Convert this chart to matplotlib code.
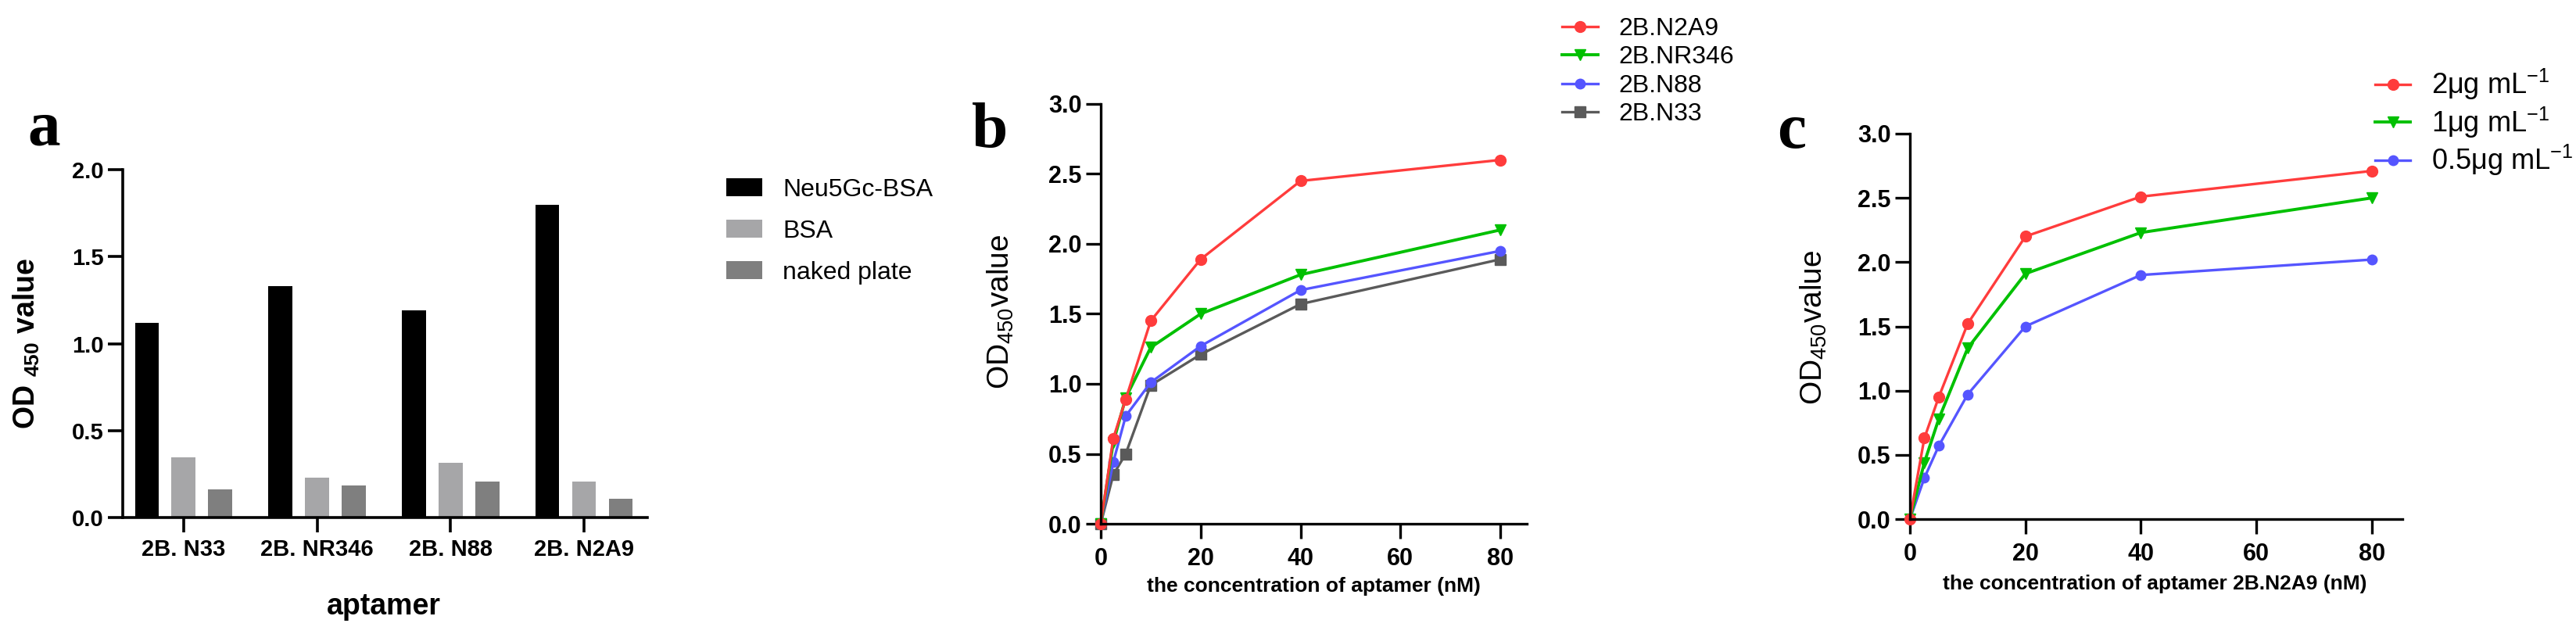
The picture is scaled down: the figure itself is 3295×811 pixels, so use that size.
import numpy as np
import matplotlib
matplotlib.use('Agg')
import matplotlib.pyplot as plt
from matplotlib import font_manager

# ---- data ----
aptamers = ['2B. N33', '2B. NR346', '2B. N88', '2B. N2A9']
neu5gc_bsa = [1.12, 1.33, 1.19, 1.80]
bsa = [0.345, 0.23, 0.315, 0.205]
naked_plate = [0.163, 0.185, 0.205, 0.11]

conc = [0, 2.5, 5, 10, 20, 40, 80]
n2a9 = [0, 0.61, 0.89, 1.45, 1.89, 2.45, 2.60]
nr346 = [0, 0.58, 0.90, 1.26, 1.50, 1.78, 2.10]
n88 = [0, 0.44, 0.77, 1.01, 1.27, 1.67, 1.95]
n33 = [0, 0.35, 0.50, 0.99, 1.21, 1.57, 1.89]

c_2ug = [0, 0.63, 0.95, 1.52, 2.20, 2.51, 2.71]
c_1ug = [0, 0.44, 0.78, 1.33, 1.91, 2.23, 2.50]
c_05ug = [0, 0.32, 0.57, 0.97, 1.50, 1.90, 2.02]

xticks_conc = [0, 20, 40, 60, 80]
yticks_a = [0, 0.5, 1.0, 1.5, 2.0]
yticks_bc = [0, 0.5, 1.0, 1.5, 2.0, 2.5, 3.0]

RED, GREEN, BLUE, GRAY = '#ff3c3c', '#00c000', '#5555ff', '#5a5a5a'

names = {f.name for f in font_manager.fontManager.ttflist}
NARROW = 'Liberation Sans Narrow' if 'Liberation Sans Narrow' in names else 'Liberation Sans'
SANS = 'Liberation Sans'
SERIF = 'Liberation Serif'

plt.rcParams['font.family'] = [SANS, 'DejaVu Sans']
plt.rcParams['mathtext.fontset'] = 'custom'
plt.rcParams['mathtext.rm'] = SANS
plt.rcParams['mathtext.it'] = SANS + ':italic'
plt.rcParams['mathtext.bf'] = SANS + ':bold'

W, H = 3295, 811
fig = plt.figure(figsize=(W / 100, H / 100), dpi=100)


def px_axes(left, top, right, bottom):
    return fig.add_axes([left / W, 1 - bottom / H, (right - left) / W, (bottom - top) / H])


def style_axes(ax, lw=2.4):
    for s in ['top', 'right']:
        ax.spines[s].set_visible(False)
    for s in ['left', 'bottom']:
        ax.spines[s].set_linewidth(lw)
        ax.spines[s].set_capstyle('projecting')
    ax.tick_params(direction='out', length=13.5, width=lw, pad=4)


# ---------------- panel a ----------------
ax = px_axes(157, 217, 828, 662)
x = np.arange(len(aptamers))
w, off = 0.18, 0.275
ax.bar(x - off, neu5gc_bsa, w, color='black', label='Neu5Gc-BSA')
ax.bar(x, bsa, w, color='#a6a6a8', label='BSA')
ax.bar(x + off, naked_plate, w, color='#7f7f7f', label='naked plate')
ax.set_xlim(-0.456, 3.474)
ax.set_ylim(0, 2)
style_axes(ax, 2.6)
ax.set_xticks(x)
ax.set_xticklabels(aptamers, fontsize=21, fontweight='bold', family=NARROW)
ax.set_yticks(yticks_a)
ax.set_yticklabels(['%.1f' % v for v in yticks_a], fontsize=21, fontweight='bold')
ax.tick_params(axis='x', pad=6)
ax.set_ylabel(r'OD $_{\mathbf{450}}$ value', fontsize=27, fontweight='bold')
ax.yaxis.set_label_coords(-0.155, 0.5)
ax.set_xlabel('aptamer', fontsize=27, fontweight='bold', va='center')
ax.xaxis.set_label_coords(0.498, -0.256)
ax.legend(loc='upper left', bbox_to_anchor=(929 / W, 1 - 228 / H), bbox_transform=fig.transFigure,
          frameon=False, fontsize=23, handlelength=1.45, handleheight=0.72, handletextpad=0.8,
          labelspacing=0.72, borderpad=0, borderaxespad=0)
fig.text(35 / W, 1 - 186 / H, 'a', fontsize=60, fontweight='bold', family=SERIF, va='baseline')

# ---------------- panel b ----------------
ax = px_axes(1408, 133, 1953, 670)
hb = {}
hb['2B.N33'], = ax.plot(conc, n33, color=GRAY, lw=2.4, marker='s', ms=9.5, clip_on=False)
hb['2B.N88'], = ax.plot(conc, n88, color=BLUE, lw=2.4, marker='o', ms=9, clip_on=False)
hb['2B.NR346'], = ax.plot(conc, nr346, color=GREEN, lw=2.8, marker='v', ms=10.5, clip_on=False)
hb['2B.N2A9'], = ax.plot(conc, n2a9, color=RED, lw=2.4, marker='o', ms=10, clip_on=False)
ax.set_xlim(0, 85.3)
ax.set_ylim(0, 3)
style_axes(ax, 2.4)
ax.set_xticks(xticks_conc)
ax.set_xticklabels([str(v) for v in xticks_conc], fontsize=22, fontweight='bold')
ax.set_yticks(yticks_bc)
ax.set_yticklabels(['%.1f' % v for v in yticks_bc], fontsize=22, fontweight='bold')
ax.tick_params(axis='x', pad=8)
ax.set_ylabel(r'OD$_{450}$value', fontsize=28)
ax.yaxis.set_label_coords(-0.2, 0.505)
ax.set_xlabel('the concentration of aptamer (nM)', fontsize=19, fontweight='bold', va='center')
ax.xaxis.set_label_coords(0.499, -0.149)
order = ['2B.N2A9', '2B.NR346', '2B.N88', '2B.N33']
ax.legend([hb[k] for k in order], order, loc='upper left', bbox_to_anchor=(1998 / W, 1 - 22 / H),
          bbox_transform=fig.transFigure, frameon=False, fontsize=23, handlelength=1.45,
          handletextpad=0.8, labelspacing=0.2, borderpad=0, borderaxespad=0)
fig.text(1243 / W, 1 - 188 / H, 'b', fontsize=60, fontweight='bold', family=SERIF, va='baseline')

# ---------------- panel c ----------------
ax = px_axes(2443, 171, 3073, 664)
l05, = ax.plot(conc, c_05ug, color=BLUE, lw=2.4, marker='o', ms=9, clip_on=False)
l1, = ax.plot(conc, c_1ug, color=GREEN, lw=2.8, marker='v', ms=10.5, clip_on=False)
l2, = ax.plot(conc, c_2ug, color=RED, lw=2.4, marker='o', ms=10, clip_on=False)
ax.set_xlim(0, 85.3)
ax.set_ylim(0, 3)
style_axes(ax, 2.4)
ax.set_xticks(xticks_conc)
ax.set_xticklabels([str(v) for v in xticks_conc], fontsize=22, fontweight='bold')
ax.set_yticks(yticks_bc)
ax.set_yticklabels(['%.1f' % v for v in yticks_bc], fontsize=22, fontweight='bold')
ax.tick_params(axis='x', pad=8)
ax.set_ylabel(r'OD$_{450}$value', fontsize=28)
ax.yaxis.set_label_coords(-0.165, 0.497)
ax.set_xlabel('the concentration of aptamer 2B.N2A9 (nM)', fontsize=19, fontweight='bold', va='center')
ax.xaxis.set_label_coords(0.498, -0.168)
ax.legend([l2, l1, l05], [r'2μg mL$^{-1}$', r'1μg mL$^{-1}$', r'0.5μg mL$^{-1}$'],
          loc='upper left', bbox_to_anchor=(3038 / W, 1 - 86 / H), bbox_transform=fig.transFigure,
          frameon=False, fontsize=26, handlelength=1.25, handletextpad=0.75, labelspacing=0.12,
          borderpad=0, borderaxespad=0)
fig.text(2273 / W, 1 - 189 / H, 'c', fontsize=60, fontweight='bold', family=SERIF, va='baseline')

fig.savefig('out.png', dpi=100, facecolor='white')
